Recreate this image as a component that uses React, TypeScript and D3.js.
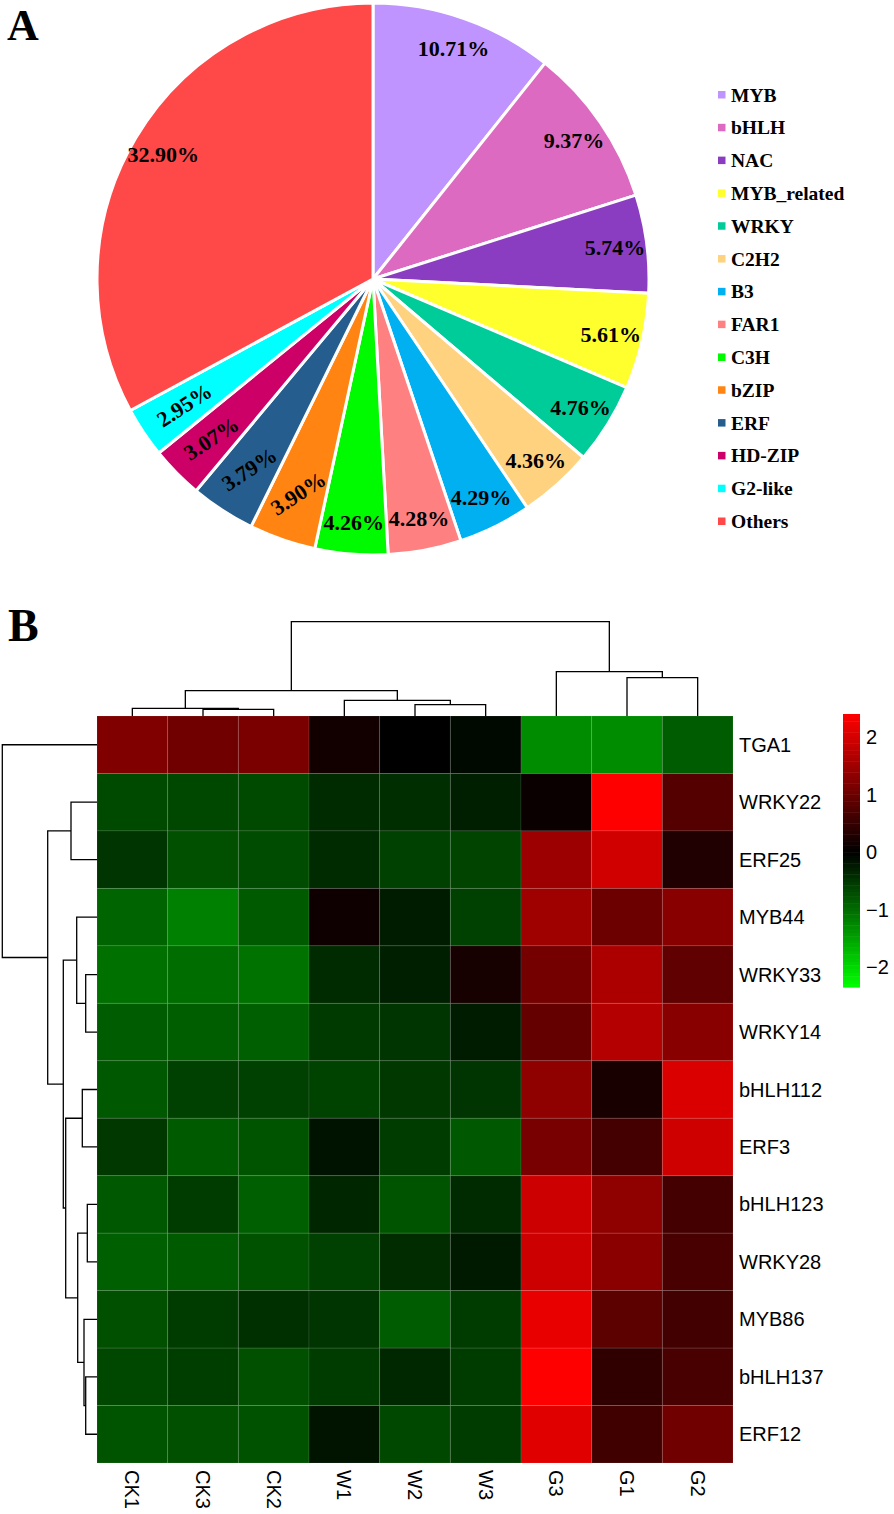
import React from "react";
import * as d3 from "d3";

// ---------- Panel A data ----------
const tfFamilies = ["MYB", "bHLH", "NAC", "MYB_related", "WRKY", "C2H2", "B3", "FAR1", "C3H", "bZIP", "ERF", "HD-ZIP", "G2-like", "Others"];
const tfPercents = [10.71, 9.37, 5.74, 5.61, 4.76, 4.36, 4.29, 4.28, 4.26, 3.9, 3.79, 3.07, 2.95, 32.9];
const tfColors = ["#C094FF", "#DC6AC0", "#8A3DC1", "#FFFF2E", "#00CC99", "#FFD280", "#00B0F0", "#FF8080", "#00FA00", "#FF8411", "#255E8E", "#CC0066", "#00FFFF", "#FF4848"];

// ---------- Panel B data ----------
const sampleNames = ["CK1", "CK3", "CK2", "W1", "W2", "W3", "G3", "G1", "G2"];
const geneNames = ["TGA1", "WRKY22", "ERF25", "MYB44", "WRKY33", "WRKY14", "bHLH112", "ERF3", "bHLH123", "WRKY28", "MYB86", "bHLH137", "ERF12"];
const exprTGA1 = [1.2, 1.05, 1.15, 0.17, 0.0, -0.08, -1.29, -1.29, -0.85];
const exprWRKY22 = [-0.68, -0.66, -0.68, -0.39, -0.42, -0.28, 0.09, 2.4, 0.79];
const exprERF25 = [-0.48, -0.74, -0.7, -0.39, -0.59, -0.63, 1.47, 1.96, 0.3];
const exprMYB44 = [-0.92, -1.18, -0.83, 0.13, -0.26, -0.59, 1.5, 1.02, 1.28];
const exprWRKY33 = [-1.03, -1.0, -1.05, -0.39, -0.29, 0.21, 1.09, 1.62, 0.9];
const exprWRKY14 = [-0.85, -0.87, -0.88, -0.53, -0.48, -0.26, 0.94, 1.69, 1.28];
const exprBHLH112 = [-0.81, -0.59, -0.59, -0.61, -0.52, -0.48, 1.35, 0.23, 2.05];
const exprERF3 = [-0.52, -0.83, -0.77, -0.17, -0.55, -0.81, 1.13, 0.64, 1.94];
const exprBHLH123 = [-0.81, -0.55, -0.88, -0.35, -0.77, -0.39, 1.92, 1.35, 0.64];
const exprWRKY28 = [-0.88, -0.83, -0.76, -0.59, -0.41, -0.24, 1.92, 1.3, 0.68];
const exprMYB86 = [-0.74, -0.55, -0.44, -0.48, -0.85, -0.55, 2.18, 0.87, 0.62];
const exprBHLH137 = [-0.66, -0.57, -0.74, -0.55, -0.37, -0.55, 2.4, 0.45, 0.68];
const exprERF12 = [-0.77, -0.74, -0.76, -0.18, -0.66, -0.55, 2.11, 0.6, 1.05];
const exprMatrix = [exprTGA1, exprWRKY22, exprERF25, exprMYB44, exprWRKY33, exprWRKY14, exprBHLH112, exprERF3, exprBHLH123, exprWRKY28, exprMYB86, exprBHLH137, exprERF12];

const keyMin = -2.35;
const keyMax = 2.4;
const keyTicks = [2, 1, 0, -1, -2];

type TreeNode = string | { h: number; c: [TreeNode, TreeNode] };

const colTree: TreeNode = {
  h: 94.3,
  c: [
    { h: 25.3, c: [{ h: 7.7, c: ["CK1", { h: 6.7, c: ["CK3", "CK2"] }] }, { h: 15.7, c: ["W1", { h: 11.3, c: ["W2", "W3"] }] }] },
    { h: 44.3, c: ["G3", { h: 38.3, c: ["G1", "G2"] }] },
  ],
};

const rowTree: TreeNode = {
  h: 94.7,
  c: [
    "TGA1",
    {
      h: 49.3,
      c: [
        { h: 26, c: ["WRKY22", "ERF25"] },
        {
          h: 33.7,
          c: [
            { h: 20.3, c: ["MYB44", { h: 11.3, c: ["WRKY33", "WRKY14"] }] },
            {
              h: 31.3,
              c: [
                { h: 14.7, c: ["bHLH112", "ERF3"] },
                { h: 19.3, c: [{ h: 9.7, c: ["bHLH123", "WRKY28"] }, { h: 13, c: ["MYB86", { h: 11.3, c: ["bHLH137", "ERF12"] }] }] },
              ],
            },
          ],
        },
      ],
    },
  ],
};

function colorFor(v: number): string {
  if (v >= 0) {
    const r = Math.round(255 * Math.min(1, v / keyMax));
    return `rgb(${r},0,0)`;
  }
  const g = Math.round(255 * Math.min(1, v / keyMin));
  return `rgb(0,${g},0)`;
}

function dendroPaths(
  tree: TreeNode,
  pos: (name: string) => number,
  hScale: (h: number) => number,
  orient: "top" | "left"
): string[] {
  const paths: string[] = [];
  const pt = (p: number, h: number) => (orient === "top" ? `${p},${hScale(h)}` : `${hScale(h)},${p}`);
  function walk(n: TreeNode): { p: number; h: number } {
    if (typeof n === "string") return { p: pos(n), h: 0 };
    const a = walk(n.c[0]);
    const b = walk(n.c[1]);
    paths.push(`M${pt(a.p, a.h)}L${pt(a.p, n.h)}L${pt(b.p, n.h)}L${pt(b.p, b.h)}`);
    return { p: (a.p + b.p) / 2, h: n.h };
  }
  walk(tree);
  return paths;
}

export default function App() {
  const W = 894;
  const H = 1514;

  // ---- Pie ----
  const cx = 373;
  const cy = 279;
  const R = 276;
  const pieGen = d3.pie<number>().sort(null).value((d) => d)(tfPercents);
  const arcGen = d3.arc<d3.PieArcDatum<number>>().innerRadius(0).outerRadius(R);
  const labelArc = d3.arc<d3.PieArcDatum<number>>().innerRadius(244).outerRadius(244);
  const labelArcSmall = d3.arc<d3.PieArcDatum<number>>().innerRadius(227).outerRadius(227);

  const legendY = d3.scalePoint<string>().domain(tfFamilies).range([95, 521.5]);

  // ---- Heatmap ----
  const hmLeft = 97;
  const hmRight = 733;
  const hmTop = 716;
  const hmBottom = 1463;
  const xBand = d3.scaleBand<string>().domain(sampleNames).range([hmLeft, hmRight]);
  const yBand = d3.scaleBand<string>().domain(geneNames).range([hmTop, hmBottom]);

  const colH = d3.scaleLinear().domain([0, 94.3]).range([hmTop, hmTop - 94.3]);
  const rowH = d3.scaleLinear().domain([0, 94.7]).range([hmLeft, hmLeft - 94.7]);
  const colPaths = dendroPaths(colTree, (n) => (xBand(n) as number) + xBand.bandwidth() / 2, colH, "top");
  const rowPaths = dendroPaths(rowTree, (n) => (yBand(n) as number) + yBand.bandwidth() / 2, rowH, "left");

  const keyY = d3.scaleLinear().domain([keyMin, keyMax]).range([852 + 2.35 * 57.5, 852 - 2.4 * 57.5]);
  const nBins = 75;
  const bins = d3.range(nBins).map((i) => keyMin + ((keyMax - keyMin) * (i + 0.5)) / nBins);
  const binH = (keyY(keyMin) - keyY(keyMax)) / nBins;

  const serif = "'Liberation Serif', 'Times New Roman', serif";
  const sans = "'Liberation Sans', Arial, sans-serif";

  return (
    <div style={{ position: "absolute", left: 0, top: 0 }}>
      <svg width={W} height={H} style={{ display: "block", background: "#fff" }}>
        <text x={7} y={40} fontFamily={serif} fontWeight="bold" fontSize={44}>A</text>
        <text x={8} y={641} fontFamily={serif} fontWeight="bold" fontSize={46}>B</text>

        {/* Pie */}
        <g transform={`translate(${cx},${cy})`}>
          {pieGen.map((d, i) => (
            <path key={i} d={arcGen(d) as string} fill={tfColors[i]} stroke="#fff" strokeWidth={3} strokeLinejoin="round" />
          ))}
          {pieGen.map((d, i) => {
            const small = d.value < 4;
            const [lx, ly] = small ? labelArcSmall.centroid(d) : labelArc.centroid(d);
            return (
              <text
                key={"l" + i}
                transform={`translate(${lx},${ly})${small ? " rotate(-33)" : ""}`}
                textAnchor="middle"
                dominantBaseline="central"
                fontFamily={serif}
                fontWeight="bold"
                fontSize={22}
                fill="#000"
              >
                {d.value.toFixed(2)}%
              </text>
            );
          })}
        </g>

        {/* Legend */}
        {tfFamilies.map((f, i) => (
          <g key={f}>
            <rect x={718} y={(legendY(f) as number) - 4} width={7.5} height={7.5} fill={tfColors[i]} />
            <text x={731} y={legendY(f) as number} dominantBaseline="central" fontFamily={serif} fontWeight="bold" fontSize={19.5}>
              {f}
            </text>
          </g>
        ))}

        {/* Heatmap cells */}
        {geneNames.map((g, ri) =>
          sampleNames.map((s, ci) => (
            <rect
              key={g + s}
              x={xBand(s)}
              y={yBand(g)}
              width={xBand.bandwidth()}
              height={yBand.bandwidth()}
              fill={colorFor(exprMatrix[ri][ci])}
              stroke="rgba(255,255,255,0.09)"
              strokeWidth={1}
            />
          ))
        )}

        {/* Dendrograms */}
        {colPaths.map((p, i) => (
          <path key={"c" + i} d={p} fill="none" stroke="#000" strokeWidth={1.3} />
        ))}
        {rowPaths.map((p, i) => (
          <path key={"r" + i} d={p} fill="none" stroke="#000" strokeWidth={1.3} />
        ))}

        {/* Row labels */}
        {geneNames.map((g) => (
          <text key={"rl" + g} x={739} y={(yBand(g) as number) + yBand.bandwidth() / 2} dominantBaseline="central" fontFamily={sans} fontSize={20}>
            {g}
          </text>
        ))}

        {/* Column labels */}
        {sampleNames.map((s) => (
          <text
            key={"cl" + s}
            transform={`translate(${(xBand(s) as number) + xBand.bandwidth() / 2},${hmBottom + 7}) rotate(90)`}
            dominantBaseline="central"
            fontFamily={sans}
            fontSize={20}
          >
            {s}
          </text>
        ))}

        {/* Color key */}
        {bins.map((v, i) => (
          <rect key={"k" + i} x={843} y={keyY(v) - binH / 2} width={17} height={binH + 0.5} fill={colorFor(v)} />
        ))}
        {keyTicks.map((t) => (
          <text key={"kt" + t} x={866} y={keyY(t)} dominantBaseline="central" fontFamily={sans} fontSize={20}>
            {t < 0 ? `\u2212${Math.abs(t)}` : t}
          </text>
        ))}
      </svg>
    </div>
  );
}
